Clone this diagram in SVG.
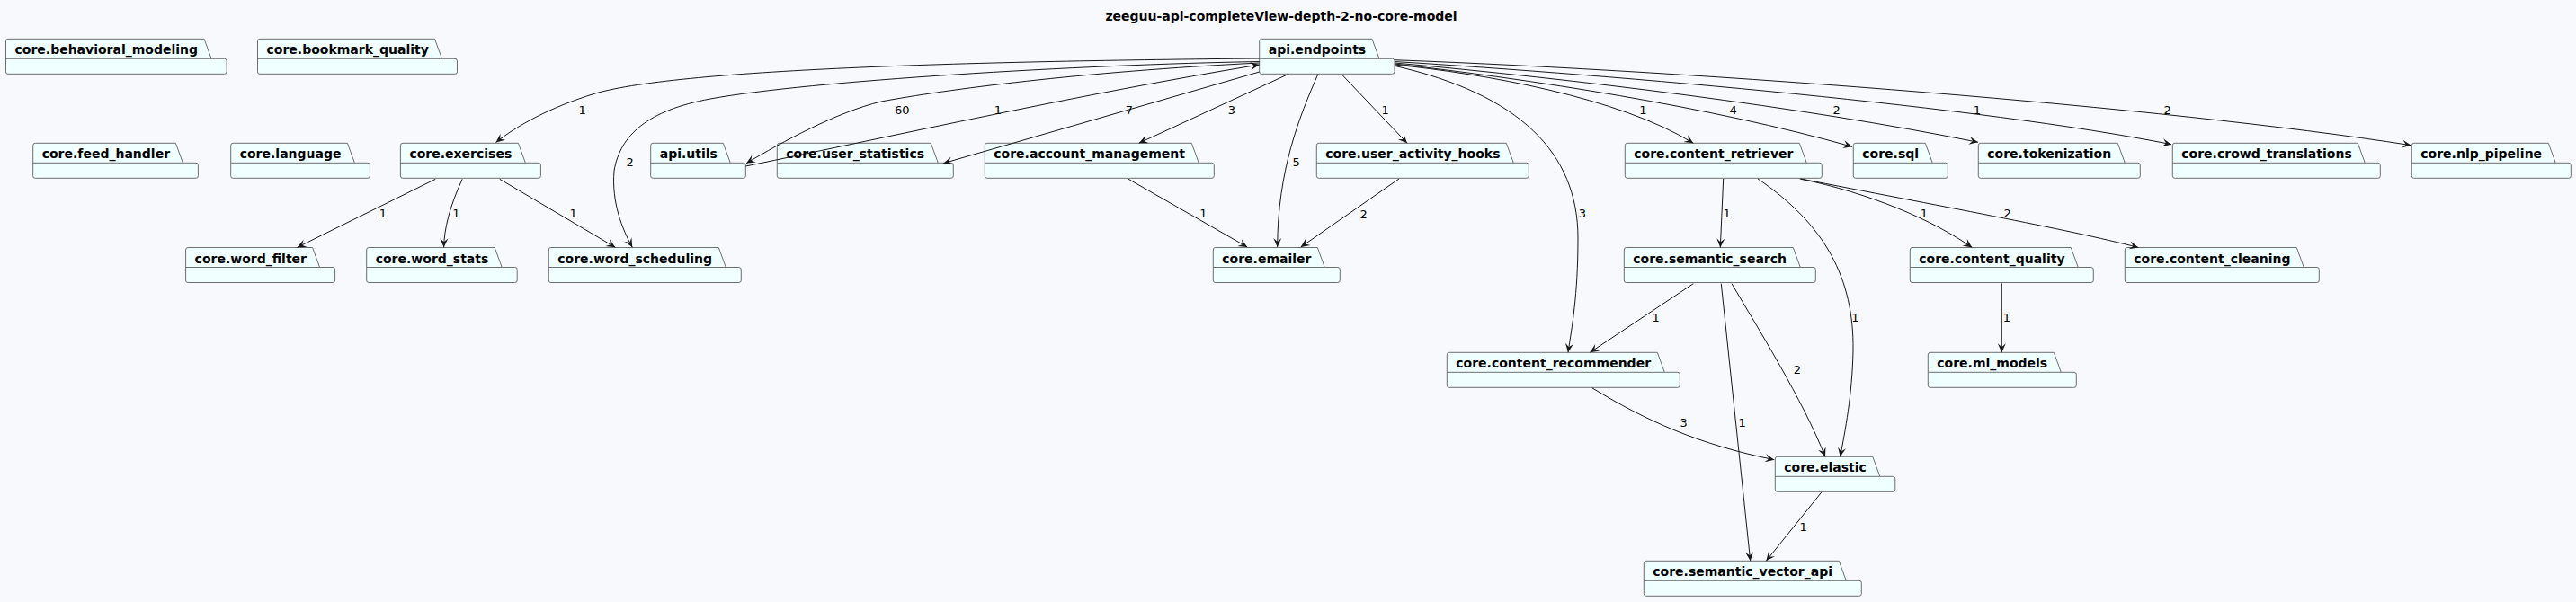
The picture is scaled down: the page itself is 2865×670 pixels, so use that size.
<svg xmlns="http://www.w3.org/2000/svg" width="2865" height="670" viewBox="0 0 2865 670">
<style>
.bg{fill:#F8F9FD}
.pk{fill:#F0FFFF;stroke:#6E6E6E;stroke-width:1}
.sep{fill:none;stroke:#6E6E6E;stroke-width:1}
.nl{font-family:"DejaVu Sans",sans-serif;font-size:14px;font-weight:bold;fill:#000}
.title{font-family:"DejaVu Sans",sans-serif;font-size:14px;font-weight:bold;fill:#000;text-anchor:middle}
.e{fill:none;stroke:#181818;stroke-width:1;marker-end:url(#ah)}
.el{font-family:"DejaVu Sans",sans-serif;font-size:13px;fill:#000;text-anchor:middle}
</style>
<defs>
<marker id="ah" viewBox="-11 -6 12 12" refX="0" refY="0" markerWidth="12" markerHeight="12" markerUnits="userSpaceOnUse" orient="auto">
<path d="M0,0 L-10,-4.5 L-6,0 L-10,4.5 Z" fill="#181818"/>
</marker>
</defs>
<rect class="bg" x="0" y="0" width="2865" height="670"/>
<text class="title" x="1425" y="23">zeeguu-api-completeView-depth-2-no-core-model</text>

<g id="core.behavioral_modeling" transform="translate(6.5,43.3)"><path class="pk" d="M2.5,0 L220.6,0 L228.6,22 L243.1,22 Q245.6,22 245.6,24.5 L245.6,36.5 Q245.6,39 243.1,39 L2.5,39 Q0,39 0,36.5 L0,2.5 Q0,0 2.5,0 Z"/><path class="sep" d="M0,22 H228.6"/><text class="nl" x="10" y="17">core.behavioral_modeling</text></g>
<g id="core.bookmark_quality" transform="translate(286.5,43.3)"><path class="pk" d="M2.5,0 L197,0 L205,22 L219.5,22 Q222,22 222,24.5 L222,36.5 Q222,39 219.5,39 L2.5,39 Q0,39 0,36.5 L0,2.5 Q0,0 2.5,0 Z"/><path class="sep" d="M0,22 H205"/><text class="nl" x="10" y="17">core.bookmark_quality</text></g>
<g id="api.endpoints" transform="translate(1400.7,43.3)"><path class="pk" d="M2.5,0 L125.3,0 L133.3,22 L147.8,22 Q150.3,22 150.3,24.5 L150.3,36.5 Q150.3,39 147.8,39 L2.5,39 Q0,39 0,36.5 L0,2.5 Q0,0 2.5,0 Z"/><path class="sep" d="M0,22 H133.3"/><text class="nl" x="10" y="17">api.endpoints</text></g>

<g id="core.feed_handler" transform="translate(36.7,159.3)"><path class="pk" d="M2.5,0 L158.7,0 L166.7,22 L181.2,22 Q183.7,22 183.7,24.5 L183.7,36.5 Q183.7,39 181.2,39 L2.5,39 Q0,39 0,36.5 L0,2.5 Q0,0 2.5,0 Z"/><path class="sep" d="M0,22 H166.7"/><text class="nl" x="10" y="17">core.feed_handler</text></g>
<g id="core.language" transform="translate(256.7,159.3)"><path class="pk" d="M2.5,0 L129.7,0 L137.7,22 L152.2,22 Q154.7,22 154.7,24.5 L154.7,36.5 Q154.7,39 152.2,39 L2.5,39 Q0,39 0,36.5 L0,2.5 Q0,0 2.5,0 Z"/><path class="sep" d="M0,22 H137.7"/><text class="nl" x="10" y="17">core.language</text></g>
<g id="core.exercises" transform="translate(445.4,159.3)"><path class="pk" d="M2.5,0 L131,0 L139,22 L153.5,22 Q156,22 156,24.5 L156,36.5 Q156,39 153.5,39 L2.5,39 Q0,39 0,36.5 L0,2.5 Q0,0 2.5,0 Z"/><path class="sep" d="M0,22 H139"/><text class="nl" x="10" y="17">core.exercises</text></g>
<g id="api.utils" transform="translate(723.7,159.3)"><path class="pk" d="M2.5,0 L80.6,0 L88.6,22 L103.1,22 Q105.6,22 105.6,24.5 L105.6,36.5 Q105.6,39 103.1,39 L2.5,39 Q0,39 0,36.5 L0,2.5 Q0,0 2.5,0 Z"/><path class="sep" d="M0,22 H88.6"/><text class="nl" x="10" y="17">api.utils</text></g>
<g id="core.user_statistics" transform="translate(864.3,159.3)"><path class="pk" d="M2.5,0 L171,0 L179,22 L193.5,22 Q196,22 196,24.5 L196,36.5 Q196,39 193.5,39 L2.5,39 Q0,39 0,36.5 L0,2.5 Q0,0 2.5,0 Z"/><path class="sep" d="M0,22 H179"/><text class="nl" x="10" y="17">core.user_statistics</text></g>
<g id="core.account_management" transform="translate(1095.3,159.3)"><path class="pk" d="M2.5,0 L230,0 L238,22 L252.5,22 Q255,22 255,24.5 L255,36.5 Q255,39 252.5,39 L2.5,39 Q0,39 0,36.5 L0,2.5 Q0,0 2.5,0 Z"/><path class="sep" d="M0,22 H238"/><text class="nl" x="10" y="17">core.account_management</text></g>
<g id="core.user_activity_hooks" transform="translate(1464.3,159.3)"><path class="pk" d="M2.5,0 L211,0 L219,22 L233.5,22 Q236,22 236,24.5 L236,36.5 Q236,39 233.5,39 L2.5,39 Q0,39 0,36.5 L0,2.5 Q0,0 2.5,0 Z"/><path class="sep" d="M0,22 H219"/><text class="nl" x="10" y="17">core.user_activity_hooks</text></g>
<g id="core.content_retriever" transform="translate(1807.3,159.3)"><path class="pk" d="M2.5,0 L194,0 L202,22 L216.5,22 Q219,22 219,24.5 L219,36.5 Q219,39 216.5,39 L2.5,39 Q0,39 0,36.5 L0,2.5 Q0,0 2.5,0 Z"/><path class="sep" d="M0,22 H202"/><text class="nl" x="10" y="17">core.content_retriever</text></g>
<g id="core.sql" transform="translate(2061.3,159.3)"><path class="pk" d="M2.5,0 L80,0 L88,22 L102.5,22 Q105,22 105,24.5 L105,36.5 Q105,39 102.5,39 L2.5,39 Q0,39 0,36.5 L0,2.5 Q0,0 2.5,0 Z"/><path class="sep" d="M0,22 H88"/><text class="nl" x="10" y="17">core.sql</text></g>
<g id="core.tokenization" transform="translate(2200.3,159.3)"><path class="pk" d="M2.5,0 L155,0 L163,22 L177.5,22 Q180,22 180,24.5 L180,36.5 Q180,39 177.5,39 L2.5,39 Q0,39 0,36.5 L0,2.5 Q0,0 2.5,0 Z"/><path class="sep" d="M0,22 H163"/><text class="nl" x="10" y="17">core.tokenization</text></g>
<g id="core.crowd_translations" transform="translate(2416.3,159.3)"><path class="pk" d="M2.5,0 L206,0 L214,22 L228.5,22 Q231,22 231,24.5 L231,36.5 Q231,39 228.5,39 L2.5,39 Q0,39 0,36.5 L0,2.5 Q0,0 2.5,0 Z"/><path class="sep" d="M0,22 H214"/><text class="nl" x="10" y="17">core.crowd_translations</text></g>
<g id="core.nlp_pipeline" transform="translate(2682.3,159.3)"><path class="pk" d="M2.5,0 L152,0 L160,22 L174.5,22 Q177,22 177,24.5 L177,36.5 Q177,39 174.5,39 L2.5,39 Q0,39 0,36.5 L0,2.5 Q0,0 2.5,0 Z"/><path class="sep" d="M0,22 H160"/><text class="nl" x="10" y="17">core.nlp_pipeline</text></g>

<g id="core.word_filter" transform="translate(206.6,275.5)"><path class="pk" d="M2.5,0 L141,0 L149,22 L163.5,22 Q166,22 166,24.5 L166,36.5 Q166,39 163.5,39 L2.5,39 Q0,39 0,36.5 L0,2.5 Q0,0 2.5,0 Z"/><path class="sep" d="M0,22 H149"/><text class="nl" x="10" y="17">core.word_filter</text></g>
<g id="core.word_stats" transform="translate(407.7,275.5)"><path class="pk" d="M2.5,0 L142.5,0 L150.5,22 L165,22 Q167.5,22 167.5,24.5 L167.5,36.5 Q167.5,39 165,39 L2.5,39 Q0,39 0,36.5 L0,2.5 Q0,0 2.5,0 Z"/><path class="sep" d="M0,22 H150.5"/><text class="nl" x="10" y="17">core.word_stats</text></g>
<g id="core.word_scheduling" transform="translate(610.3,275.5)"><path class="pk" d="M2.5,0 L189,0 L197,22 L211.5,22 Q214,22 214,24.5 L214,36.5 Q214,39 211.5,39 L2.5,39 Q0,39 0,36.5 L0,2.5 Q0,0 2.5,0 Z"/><path class="sep" d="M0,22 H197"/><text class="nl" x="10" y="17">core.word_scheduling</text></g>
<g id="core.emailer" transform="translate(1349.3,275.5)"><path class="pk" d="M2.5,0 L116,0 L124,22 L138.5,22 Q141,22 141,24.5 L141,36.5 Q141,39 138.5,39 L2.5,39 Q0,39 0,36.5 L0,2.5 Q0,0 2.5,0 Z"/><path class="sep" d="M0,22 H124"/><text class="nl" x="10" y="17">core.emailer</text></g>
<g id="core.semantic_search" transform="translate(1806.3,275.5)"><path class="pk" d="M2.5,0 L188,0 L196,22 L210.5,22 Q213,22 213,24.5 L213,36.5 Q213,39 210.5,39 L2.5,39 Q0,39 0,36.5 L0,2.5 Q0,0 2.5,0 Z"/><path class="sep" d="M0,22 H196"/><text class="nl" x="10" y="17">core.semantic_search</text></g>
<g id="core.content_quality" transform="translate(2124.3,275.5)"><path class="pk" d="M2.5,0 L179,0 L187,22 L201.5,22 Q204,22 204,24.5 L204,36.5 Q204,39 201.5,39 L2.5,39 Q0,39 0,36.5 L0,2.5 Q0,0 2.5,0 Z"/><path class="sep" d="M0,22 H187"/><text class="nl" x="10" y="17">core.content_quality</text></g>
<g id="core.content_cleaning" transform="translate(2363.3,275.5)"><path class="pk" d="M2.5,0 L191,0 L199,22 L213.5,22 Q216,22 216,24.5 L216,36.5 Q216,39 213.5,39 L2.5,39 Q0,39 0,36.5 L0,2.5 Q0,0 2.5,0 Z"/><path class="sep" d="M0,22 H199"/><text class="nl" x="10" y="17">core.content_cleaning</text></g>

<g id="core.content_recommender" transform="translate(1609.3,392.3)"><path class="pk" d="M2.5,0 L234,0 L242,22 L256.5,22 Q259,22 259,24.5 L259,36.5 Q259,39 256.5,39 L2.5,39 Q0,39 0,36.5 L0,2.5 Q0,0 2.5,0 Z"/><path class="sep" d="M0,22 H242"/><text class="nl" x="10" y="17">core.content_recommender</text></g>
<g id="core.ml_models" transform="translate(2144.3,392.3)"><path class="pk" d="M2.5,0 L140,0 L148,22 L162.5,22 Q165,22 165,24.5 L165,36.5 Q165,39 162.5,39 L2.5,39 Q0,39 0,36.5 L0,2.5 Q0,0 2.5,0 Z"/><path class="sep" d="M0,22 H148"/><text class="nl" x="10" y="17">core.ml_models</text></g>

<g id="core.elastic" transform="translate(1974.3,508.3)"><path class="pk" d="M2.5,0 L108.5,0 L116.5,22 L131,22 Q133.5,22 133.5,24.5 L133.5,36.5 Q133.5,39 131,39 L2.5,39 Q0,39 0,36.5 L0,2.5 Q0,0 2.5,0 Z"/><path class="sep" d="M0,22 H116.5"/><text class="nl" x="10" y="17">core.elastic</text></g>

<g id="core.semantic_vector_api" transform="translate(1828.3,624.3)"><path class="pk" d="M2.5,0 L217,0 L225,22 L239.5,22 Q242,22 242,24.5 L242,36.5 Q242,39 239.5,39 L2.5,39 Q0,39 0,36.5 L0,2.5 Q0,0 2.5,0 Z"/><path class="sep" d="M0,22 H225"/><text class="nl" x="10" y="17">core.semantic_vector_api</text></g>

<g id="connectors">
<path class="e" d="M1400.7,65 C1100,68 760,76 662,104 C610,120 575,140 551.5,158.5"/>
<text class="el" x="647.7" y="126.5">1</text>
<path class="e" d="M1400.7,68.5 C1200,72 900,90 790,110 C720,123 690,150 683,190 C680,225 692,255 703.3,275.3"/>
<text class="el" x="700.7" y="184.7">2</text>
<path class="e" d="M1400.7,70 C1200,80 1050,100 980,113 C930,125 870,158 830,181.7"/>
<text class="el" x="1003.3" y="126.5">60</text>
<path class="e" d="M829.3,185 C1000,150 1200,105 1400.7,72"/>
<text class="el" x="1110" y="126.5">1</text>
<path class="e" d="M1400.7,80 L1049.3,181.7"/>
<text class="el" x="1256" y="126.5">7</text>
<path class="e" d="M1433.3,82.3 L1266.7,159.3"/>
<text class="el" x="1370" y="126.5">3</text>
<path class="e" d="M1466,82.3 C1445,130 1421,190 1420.7,275"/>
<text class="el" x="1441.7" y="184.7">5</text>
<path class="e" d="M1492.7,83.3 L1565,159.3"/>
<text class="el" x="1540.7" y="126.5">1</text>
<path class="e" d="M1556,199 L1446.7,275"/>
<text class="el" x="1516.7" y="243">2</text>
<path class="e" d="M1255,199.3 L1387.3,275"/>
<text class="el" x="1338.3" y="242">1</text>
<path class="e" d="M1551,73.3 C1690,105 1755,170 1755,265 C1755,330 1748,365 1744,392.3"/>
<text class="el" x="1760" y="242">3</text>
<path class="e" d="M1551,72 C1650,82 1800,108 1883.3,159.3"/>
<text class="el" x="1827.3" y="126.5">1</text>
<path class="e" d="M1551,71 C1700,88 1900,118 2060,163.3"/>
<text class="el" x="1927.7" y="126.5">4</text>
<path class="e" d="M1551,70 C1750,88 2000,118 2200,158.3"/>
<text class="el" x="2042.7" y="126.5">2</text>
<path class="e" d="M1551,68.5 C1800,84 2200,118 2415,160.7"/>
<text class="el" x="2199" y="126.5">1</text>
<path class="e" d="M1551,66.7 C1900,80 2400,118 2681.7,161.7"/>
<text class="el" x="2410.7" y="126.5">2</text>
<path class="e" d="M484.4,199.3 L330.6,275.3"/>
<text class="el" x="426" y="242.4">1</text>
<path class="e" d="M514.2,199.3 C500,230 494,255 493.6,275.3"/>
<text class="el" x="507.3" y="242.4">1</text>
<path class="e" d="M555.7,199.3 L684.3,275.3"/>
<text class="el" x="637.7" y="242">1</text>
<path class="e" d="M1916.7,199 L1913.3,275.5"/>
<text class="el" x="1920.7" y="242">1</text>
<path class="e" d="M1955,199 C2030,250 2062,310 2061,390 C2060,440 2052,480 2046.7,508.3"/>
<text class="el" x="2063.3" y="358">1</text>
<path class="e" d="M2001.7,199 C2080,215 2150,245 2193.3,275.5"/>
<text class="el" x="2140" y="242">1</text>
<path class="e" d="M2003,199 C2150,228 2300,255 2378.3,275.5"/>
<text class="el" x="2232.7" y="242">2</text>
<path class="e" d="M2226.3,315.3 L2226.3,392.3"/>
<text class="el" x="2231.8" y="358">1</text>
<path class="e" d="M1883.3,315.7 L1768.3,392.3"/>
<text class="el" x="1841.7" y="358">1</text>
<path class="e" d="M1914.3,315.7 L1946.7,624.3"/>
<text class="el" x="1937.7" y="474.7">1</text>
<path class="e" d="M1926,315.7 C1955,365 2005,445 2030,508.3"/>
<text class="el" x="1999" y="416.4">2</text>
<path class="e" d="M1770.7,431.7 C1830,468 1890,495 1973.3,511.7"/>
<text class="el" x="1872.7" y="474.7">3</text>
<path class="e" d="M2026,547.7 L1964.3,624.3"/>
<text class="el" x="2005.7" y="590.7">1</text>
</g>
</svg>
